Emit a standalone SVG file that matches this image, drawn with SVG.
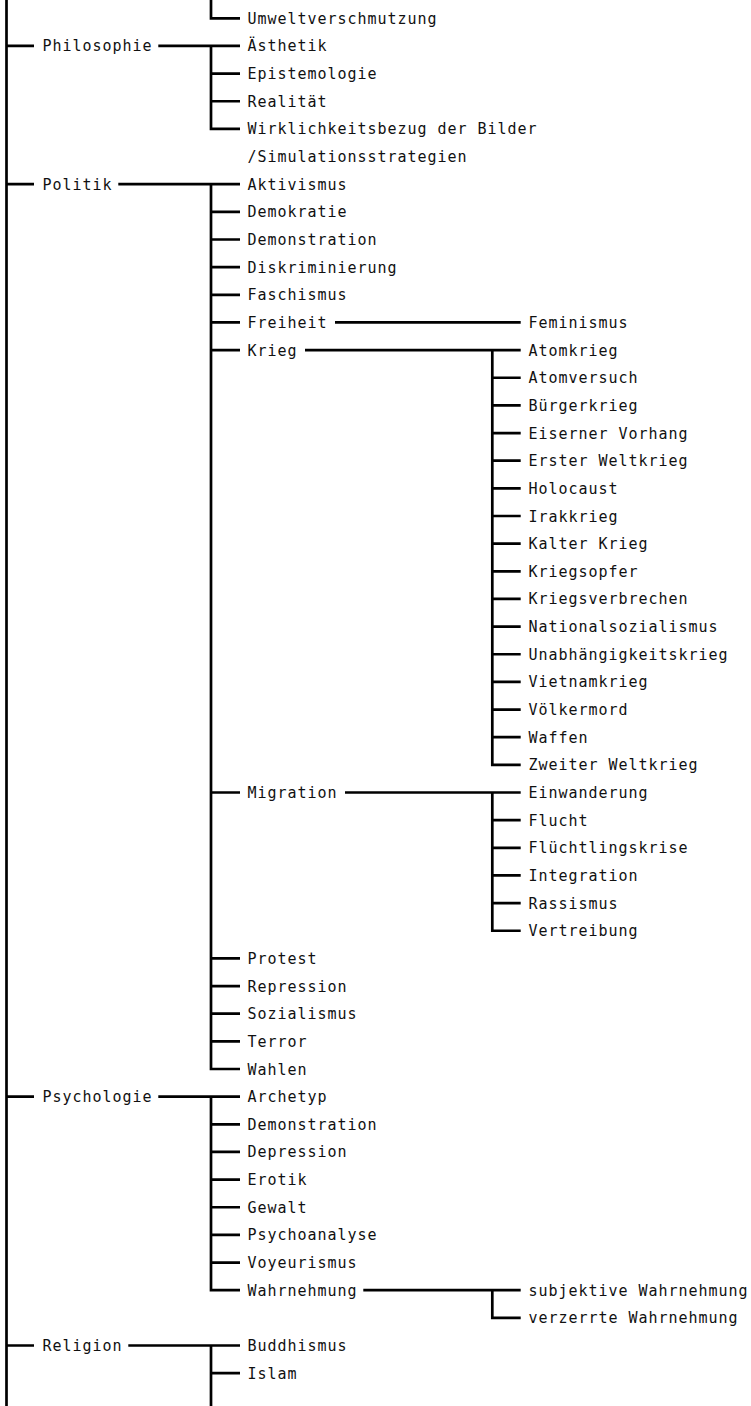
<svg xmlns="http://www.w3.org/2000/svg" width="751" height="1406" viewBox="0 0 751 1406">
<style>
text{font-family:"DejaVu Sans Mono","Liberation Mono",monospace;font-size:15px;letter-spacing:0.97px;fill:#111}
.c path{fill:none;stroke:#000;stroke-width:2.7;stroke-linecap:butt;stroke-linejoin:miter}
</style>
<rect width="751" height="1406" fill="#fff"/>
<g class="c" id="connectors">
<path d="M6.5 0V1406"/>
<path d="M6.5 45.95H34M6.5 184.2H34M6.5 1096.65H34M6.5 1345.5H34"/>
<path d="M211 0V18.3H240"/>
<path d="M158.3 45.95H240M211 45.95V128.9H240M211 73.6H240M211 101.25H240"/>
<path d="M118.3 184.2H240M211 184.2V1069H240M211 211.85H240M211 239.5H240M211 267.15H240M211 294.8H240M211 322.45H240M211 350.1H240M211 792.5H240M211 958.4H240M211 986.05H240M211 1013.7H240M211 1041.35H240"/>
<path d="M335 322.45H520.7"/>
<path d="M305 350.1H520.7M492.3 350.1V764.85H520.7M492.3 377.75H520.7M492.3 405.4H520.7M492.3 433.05H520.7M492.3 460.7H520.7M492.3 488.35H520.7M492.3 516H520.7M492.3 543.65H520.7M492.3 571.3H520.7M492.3 598.95H520.7M492.3 626.6H520.7M492.3 654.25H520.7M492.3 681.9H520.7M492.3 709.55H520.7M492.3 737.2H520.7"/>
<path d="M345 792.5H520.7M492.3 792.5V930.75H520.7M492.3 820.15H520.7M492.3 847.8H520.7M492.3 875.45H520.7M492.3 903.1H520.7"/>
<path d="M158.3 1096.65H240M211 1096.65V1290.2H240M211 1124.3H240M211 1151.95H240M211 1179.6H240M211 1207.25H240M211 1234.9H240M211 1262.55H240"/>
<path d="M363.3 1290.2H520.7M492.3 1290.2V1317.85H520.7"/>
<path d="M128.3 1345.5H240M211 1345.5V1406M211 1373.15H240"/>
</g>
<g id="n-umweltverschmutzung"><text x="247.5" y="23.8">Umweltverschmutzung</text></g>
<g id="n-philosophie"><text x="42.5" y="51.45">Philosophie</text></g>
<g id="n-aesthetik"><text x="247.5" y="51.45">Ästhetik</text></g>
<g id="n-epistemologie"><text x="247.5" y="79.1">Epistemologie</text></g>
<g id="n-realitaet"><text x="247.5" y="106.75">Realität</text></g>
<g id="n-wirklichkeitsbezug"><text x="247.5" y="134.4">Wirklichkeitsbezug der Bilder</text><text x="247.5" y="162.05">/Simulationsstrategien</text></g>
<g id="n-politik"><text x="42.5" y="189.7">Politik</text></g>
<g id="n-aktivismus"><text x="247.5" y="189.7">Aktivismus</text></g>
<g id="n-demokratie"><text x="247.5" y="217.35">Demokratie</text></g>
<g id="n-demonstration"><text x="247.5" y="245">Demonstration</text></g>
<g id="n-diskriminierung"><text x="247.5" y="272.65">Diskriminierung</text></g>
<g id="n-faschismus"><text x="247.5" y="300.3">Faschismus</text></g>
<g id="n-freiheit"><text x="247.5" y="327.95">Freiheit</text></g>
<g id="n-feminismus"><text x="528.5" y="327.95">Feminismus</text></g>
<g id="n-krieg"><text x="247.5" y="355.6">Krieg</text></g>
<g id="n-atomkrieg"><text x="528.5" y="355.6">Atomkrieg</text></g>
<g id="n-atomversuch"><text x="528.5" y="383.25">Atomversuch</text></g>
<g id="n-buergerkrieg"><text x="528.5" y="410.9">Bürgerkrieg</text></g>
<g id="n-eiserner-vorhang"><text x="528.5" y="438.55">Eiserner Vorhang</text></g>
<g id="n-erster-weltkrieg"><text x="528.5" y="466.2">Erster Weltkrieg</text></g>
<g id="n-holocaust"><text x="528.5" y="493.85">Holocaust</text></g>
<g id="n-irakkrieg"><text x="528.5" y="521.5">Irakkrieg</text></g>
<g id="n-kalter-krieg"><text x="528.5" y="549.15">Kalter Krieg</text></g>
<g id="n-kriegsopfer"><text x="528.5" y="576.8">Kriegsopfer</text></g>
<g id="n-kriegsverbrechen"><text x="528.5" y="604.45">Kriegsverbrechen</text></g>
<g id="n-nationalsozialismus"><text x="528.5" y="632.1">Nationalsozialismus</text></g>
<g id="n-unabhaengigkeitskrieg"><text x="528.5" y="659.75">Unabhängigkeitskrieg</text></g>
<g id="n-vietnamkrieg"><text x="528.5" y="687.4">Vietnamkrieg</text></g>
<g id="n-voelkermord"><text x="528.5" y="715.05">Völkermord</text></g>
<g id="n-waffen"><text x="528.5" y="742.7">Waffen</text></g>
<g id="n-zweiter-weltkrieg"><text x="528.5" y="770.35">Zweiter Weltkrieg</text></g>
<g id="n-migration"><text x="247.5" y="798">Migration</text></g>
<g id="n-einwanderung"><text x="528.5" y="798">Einwanderung</text></g>
<g id="n-flucht"><text x="528.5" y="825.65">Flucht</text></g>
<g id="n-fluechtlingskrise"><text x="528.5" y="853.3">Flüchtlingskrise</text></g>
<g id="n-integration"><text x="528.5" y="880.95">Integration</text></g>
<g id="n-rassismus"><text x="528.5" y="908.6">Rassismus</text></g>
<g id="n-vertreibung"><text x="528.5" y="936.25">Vertreibung</text></g>
<g id="n-protest"><text x="247.5" y="963.9">Protest</text></g>
<g id="n-repression"><text x="247.5" y="991.55">Repression</text></g>
<g id="n-sozialismus"><text x="247.5" y="1019.2">Sozialismus</text></g>
<g id="n-terror"><text x="247.5" y="1046.85">Terror</text></g>
<g id="n-wahlen"><text x="247.5" y="1074.5">Wahlen</text></g>
<g id="n-psychologie"><text x="42.5" y="1102.15">Psychologie</text></g>
<g id="n-archetyp"><text x="247.5" y="1102.15">Archetyp</text></g>
<g id="n-demonstration-2"><text x="247.5" y="1129.8">Demonstration</text></g>
<g id="n-depression"><text x="247.5" y="1157.45">Depression</text></g>
<g id="n-erotik"><text x="247.5" y="1185.1">Erotik</text></g>
<g id="n-gewalt"><text x="247.5" y="1212.75">Gewalt</text></g>
<g id="n-psychoanalyse"><text x="247.5" y="1240.4">Psychoanalyse</text></g>
<g id="n-voyeurismus"><text x="247.5" y="1268.05">Voyeurismus</text></g>
<g id="n-wahrnehmung"><text x="247.5" y="1295.7">Wahrnehmung</text></g>
<g id="n-subjektive-wahrnehmung"><text x="528.5" y="1295.7">subjektive Wahrnehmung</text></g>
<g id="n-verzerrte-wahrnehmung"><text x="528.5" y="1323.35">verzerrte Wahrnehmung</text></g>
<g id="n-religion"><text x="42.5" y="1351">Religion</text></g>
<g id="n-buddhismus"><text x="247.5" y="1351">Buddhismus</text></g>
<g id="n-islam"><text x="247.5" y="1378.65">Islam</text></g>
</svg>
